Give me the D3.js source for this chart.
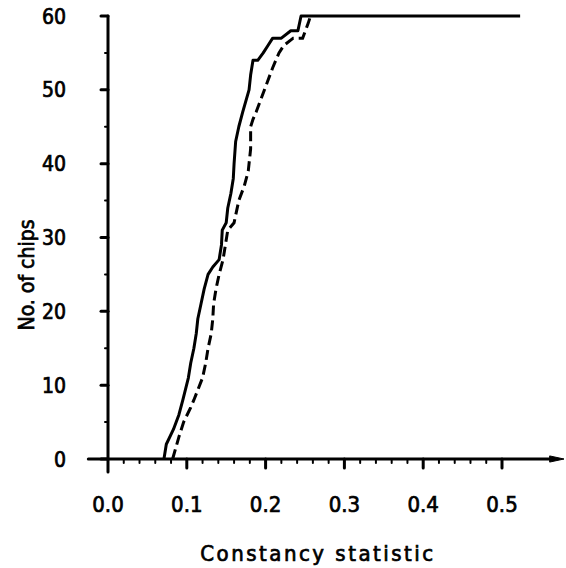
<!DOCTYPE html>
<html>
<head>
<meta charset="utf-8">
<script src="https://cdn.jsdelivr.net/npm/d3@7"></script>
<style>
  body { margin: 0; background: #fff; }
  text { font-family: "DejaVu Sans Condensed", "DejaVu Sans", sans-serif; font-stretch: condensed; fill: #000; stroke: #000; stroke-width: 0.7px; }
</style>
</head>
<body>
<div id="chart"></div>
<script>
// cumulative count of chips vs constancy statistic
const solidStat  = [0.071, 0.074, 0.083, 0.090, 0.095, 0.102, 0.105, 0.109, 0.112, 0.114, 0.118, 0.122, 0.127, 0.133, 0.141, 0.144, 0.145, 0.150, 0.152, 0.156, 0.159, 0.160, 0.162, 0.166, 0.171, 0.179, 0.181, 0.184, 0.190, 0.197, 0.203, 0.209, 0.220, 0.232, 0.241, 0.245, 0.523]
const solidCount = [0, 2, 4, 6, 8, 11, 13, 15, 17, 19, 21, 23, 25, 26, 27, 29, 31, 32, 34, 36, 38, 40, 43, 45, 47, 50, 52, 54, 54, 55, 56, 57, 57, 58, 58, 60, 60]

const dashStat  = [0.082, 0.090, 0.096, 0.105, 0.109, 0.120, 0.124, 0.127, 0.131, 0.133, 0.134, 0.137, 0.141, 0.146, 0.152, 0.160, 0.166, 0.173, 0.178, 0.181, 0.181, 0.184, 0.188, 0.202, 0.209, 0.217, 0.223, 0.235, 0.247, 0.254, 0.257]
const dashCount = [0, 3, 5, 7, 8, 11, 13, 15, 17, 19, 21, 23, 25, 27, 31, 32, 35, 37, 39, 42, 45, 46, 47, 51, 53, 55, 56, 57, 57, 59, 60]

const xTicks = [0, 0.1, 0.2, 0.3, 0.4, 0.5]
const yTicks = [0, 10, 20, 30, 40, 50, 60]

const width = 566
const height = 568
const margin = {top: 16, right: 3, bottom: 109, left: 108}

const svg = d3.select("#chart")
    .append("svg")
    .attr("width", width)
    .attr("height", height)

const x = d3.scaleLinear()
    .domain([0, 0.5])
    .range([margin.left, 502])

const y = d3.scaleLinear()
    .domain([0, 60])
    .range([height - margin.bottom, margin.top])

const layer_axes = svg.append("g")
    .attr("stroke", "black")
    .attr("stroke-width", 3)
    .attr("stroke-linecap", "round")
const layer_lines = svg.append("g")
const layer_text = svg.append("g")

// x axis with arrow
const y0 = y(0)
layer_axes.append("line")
    .attr("x1", x(-0.025)).attr("x2", width - 12)
    .attr("y1", y0).attr("y2", y0)
layer_axes.append("path")
    .attr("stroke-width", 1)
    .attr("fill", "black")
    .attr("d", `M${width - 16},${y0 - 3} L${width - 2},${y0} L${width - 16},${y0 + 3} Z`)

layer_axes.selectAll(".xmajor")
    .data(xTicks.slice(1))
    .join("line")
    .attr("x1", d => x(d)).attr("x2", d => x(d))
    .attr("y1", y0).attr("y2", y0 + 9)

layer_axes.selectAll(".xminor")
    .data(d3.range(1, 26).map(i => i * 0.02).filter(d => Math.abs(d * 10 - Math.round(d * 10)) > 1e-6))
    .join("line")
    .attr("stroke-width", 2)
    .attr("x1", d => x(d)).attr("x2", d => x(d))
    .attr("y1", y0).attr("y2", y0 + 4)

// y axis
layer_axes.append("line")
    .attr("x1", x(0)).attr("x2", x(0))
    .attr("y1", y(60)).attr("y2", y0 + 13)

layer_axes.selectAll(".ymajor")
    .data(yTicks)
    .join("line")
    .attr("x1", x(0) - 7).attr("x2", x(0))
    .attr("y1", d => y(d)).attr("y2", d => y(d))

layer_axes.selectAll(".yminor")
    .data(d3.range(5, 60, 10))
    .join("line")
    .attr("stroke-width", 2)
    .attr("x1", x(0) - 3).attr("x2", x(0))
    .attr("y1", d => y(d)).attr("y2", d => y(d))

// curves
const line = d3.line()
    .x(d => x(d[0]))
    .y(d => y(d[1]))

layer_lines.append("path")
    .datum(d3.zip(solidStat, solidCount))
    .attr("fill", "none")
    .attr("stroke", "black")
    .attr("stroke-width", 3)
    .attr("stroke-linejoin", "round")
    .attr("d", line)

layer_lines.append("path")
    .datum(d3.zip(dashStat, dashCount))
    .attr("fill", "none")
    .attr("stroke", "black")
    .attr("stroke-width", 3)
    .attr("stroke-dasharray", "10,5")
    .attr("d", line)

// labels
layer_text.selectAll(".ylab")
    .data(yTicks)
    .join("text")
    .attr("x", 66)
    .attr("y", d => y(d))
    .attr("dy", "0.36em")
    .attr("text-anchor", "end")
    .style("font-size", "21px")
    .text(d => d)

layer_text.selectAll(".xlab")
    .data(xTicks)
    .join("text")
    .attr("x", d => x(d))
    .attr("y", 512)
    .attr("text-anchor", "middle")
    .style("font-size", "22px")
    .text(d => d3.format(".1f")(d))

layer_text.append("text")
    .attr("x", 318)
    .attr("y", 561)
    .attr("text-anchor", "middle")
    .style("font-size", "22px")
    .style("letter-spacing", "2.5px")
    .text("Constancy statistic")

layer_text.append("text")
    .attr("transform", "translate(34,275) rotate(-90)")
    .attr("text-anchor", "middle")
    .style("font-size", "21px")
    .text("No. of chips")
</script>
</body>
</html>
